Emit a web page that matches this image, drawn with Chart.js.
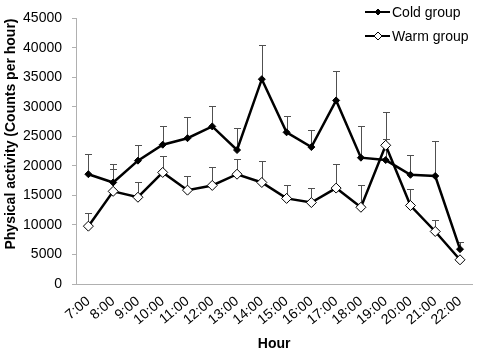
<!DOCTYPE html>
<html>
<head>
<meta charset="utf-8">
<script src="https://cdn.jsdelivr.net/npm/chart.js@4"></script>
<style>
html,body{margin:0;padding:0;background:#fff;}
#wrap{width:480px;height:357px;position:relative;}
</style>
</head>
<body>
<div id="wrap"><canvas id="c" width="480" height="357"></canvas></div>
<script>
const hours = ['7:00','8:00','9:00','10:00','11:00','12:00','13:00','14:00','15:00','16:00','17:00','18:00','19:00','20:00','21:00','22:00'];
const coldValues = [18600,17200,20900,23600,24700,26700,22700,34700,25700,23200,31100,21400,21000,18500,18300,5900];
const coldErrors = [3400,3200,2600,3100,3600,3500,3800,5800,2800,2900,5000,5300,3600,3350,6000,1170];
const warmValues = [9800,15700,14700,18900,15900,16700,18600,17200,14500,13800,16250,13000,23500,13300,8900,4100];
const warmErrors = [2150,3800,2600,2800,2400,3100,2500,3600,2350,2500,4050,3850,5600,2800,2000,0];
const yTicks = [0,5000,10000,15000,20000,25000,30000,35000,40000,45000];
const seriesNames = ['Cold group','Warm group'];
const yTitle = 'Physical activity (Counts per hour)';
const xTitle = 'Hour';
const errorsBySeries = [coldErrors, warmErrors];

const FONT = "'Liberation Sans', Arial, sans-serif";

const errorBars = {
  id: 'errorBars',
  beforeDatasetsDraw(chart) {
    const ctx = chart.ctx;
    const ys = chart.scales.y;
    ctx.save();
    ctx.strokeStyle = '#505050';
    ctx.lineWidth = 1;
    chart.data.datasets.forEach((ds, i) => {
      const meta = chart.getDatasetMeta(i);
      const errs = errorsBySeries[i];
      meta.data.forEach((pt, j) => {
        if (!errs[j]) return;
        const x = Math.round(pt.x) + 0.5;
        const yTop = Math.round(ys.getPixelForValue(ds.data[j] + errs[j])) + 0.5;
        ctx.beginPath();
        ctx.moveTo(x, pt.y);
        ctx.lineTo(x, yTop);
        ctx.moveTo(x - 3.5, yTop);
        ctx.lineTo(x + 3.5, yTop);
        ctx.stroke();
      });
    });
    ctx.restore();
  }
};

const customLegend = {
  id: 'customLegend',
  afterDraw(chart) {
    const ctx = chart.ctx;
    ctx.save();
    const rows = [12, 36];
    chart.data.datasets.forEach((ds, i) => {
      const y = rows[i];
      ctx.strokeStyle = '#000';
      ctx.lineWidth = 2;
      ctx.beginPath();
      ctx.moveTo(365, y);
      ctx.lineTo(390, y);
      ctx.stroke();
      const r = i === 0 ? 3 : 4;
      ctx.beginPath();
      ctx.moveTo(378, y - r);
      ctx.lineTo(378 + r, y);
      ctx.lineTo(378, y + r);
      ctx.lineTo(378 - r, y);
      ctx.closePath();
      ctx.fillStyle = i === 0 ? '#000' : '#fff';
      ctx.fill();
      ctx.lineWidth = 1;
      ctx.stroke();
      ctx.fillStyle = '#000';
      ctx.font = '14px ' + FONT;
      ctx.textBaseline = 'middle';
      ctx.textAlign = 'left';
      ctx.fillText(ds.label, 392, y + 1);
    });
    // y-axis title, placed as in the reference (slightly above the plot centre)
    ctx.translate(11, 134);
    ctx.rotate(-Math.PI / 2);
    ctx.font = 'bold 14px ' + FONT;
    ctx.textAlign = 'center';
    ctx.textBaseline = 'middle';
    ctx.fillText(yTitle, 0, 0);
    ctx.restore();
  }
};

new Chart(document.getElementById('c'), {
  type: 'line',
  data: {
    labels: hours,
    datasets: [
      {
        label: seriesNames[0],
        data: coldValues,
        borderColor: '#000',
        borderWidth: 2.5,
        pointStyle: 'rectRot',
        pointRadius: 3.5,
        pointBackgroundColor: '#000',
        pointBorderColor: '#000',
        pointBorderWidth: 1,
        tension: 0
      },
      {
        label: seriesNames[1],
        data: warmValues,
        borderColor: '#000',
        borderWidth: 2.5,
        pointStyle: 'rectRot',
        pointRadius: 5,
        pointBackgroundColor: '#fff',
        pointBorderColor: '#000',
        pointBorderWidth: 1,
        tension: 0
      }
    ]
  },
  options: {
    responsive: false,
    animation: false,
    devicePixelRatio: 1,
    layout: { padding: { top: 8, right: 3, left: 0, bottom: 0 } },
    plugins: {
      legend: { display: false },
      tooltip: { enabled: false }
    },
    scales: {
      x: {
        type: 'category',
        offset: true,
        grid: { display: true, drawOnChartArea: false, drawTicks: false, color: '#b0b0b0' },
        border: { color: '#b0b0b0', width: 1 },
        ticks: {
          color: '#000',
          font: { family: FONT, size: 14 },
          minRotation: 40,
          maxRotation: 40,
          padding: 9,
          autoSkip: false
        },
        title: {
          display: true,
          text: xTitle,
          color: '#000',
          font: { family: FONT, size: 14, weight: 'bold' },
          padding: { top: 0, bottom: 4 }
        },
        afterFit(scale) { scale.height = 73; }
      },
      y: {
        min: 0,
        max: 45000,
        afterBuildTicks(scale) { scale.ticks = yTicks.map(v => ({ value: v })); },
        grid: { display: true, drawOnChartArea: false, drawTicks: true, tickLength: 4, color: '#b0b0b0' },
        border: { color: '#b0b0b0', width: 1 },
        ticks: {
          color: '#000',
          font: { family: FONT, size: 14 },
          padding: 10,
          callback: v => String(v)
        },
        title: { display: false, text: yTitle },
        afterFit(scale) { scale.width = 76; }
      }
    }
  },
  plugins: [errorBars, customLegend]
});
</script>
</body>
</html>
